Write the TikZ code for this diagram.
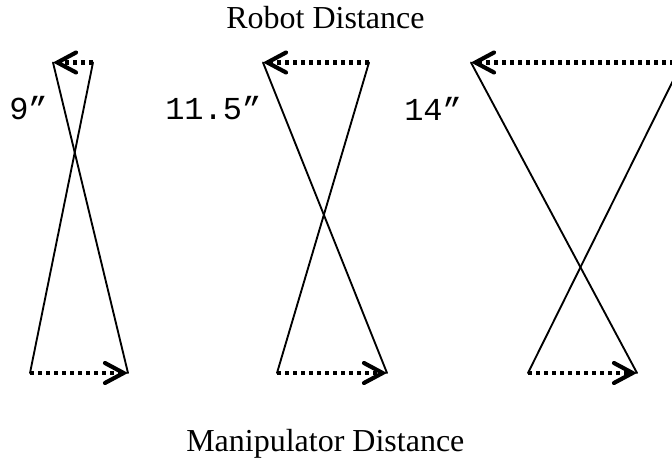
\documentclass[tikz,border=0pt]{standalone}
\usepackage{fontspec}
\setmainfont{Liberation Serif}
\newfontfamily\labelmono{Liberation Mono}
\usetikzlibrary{arrows.meta}
\tikzset{
  crossline/.style={line width=1.4pt, line cap=round},
  dotarrow/.style={line width=3.1pt, dash pattern=on 3pt off 3pt,
    -{Straight Barb[length=14pt, width=15pt, line width=3.1pt, line cap=round]}},
  titletext/.style={inner sep=0pt, anchor=base west, font=\fontsize{24}{28}\selectfont},
  disttext/.style={inner sep=0pt, anchor=base west, font=\labelmono\fontsize{24}{28}\selectfont},
}
\begin{document}
\begin{tikzpicture}[x=0.75pt, y=-0.75pt]
\useasboundingbox (0,0) rectangle (672,459);
\clip (0,0) rectangle (672,459);
% shape 1
\coordinate (atl) at (53,62.5);
\coordinate (atr) at (93,62.5);
\coordinate (abl) at (30,373);
\coordinate (abr) at (128,373);
% shape 2
\coordinate (btl) at (263,62.5);
\coordinate (btr) at (369,62.5);
\coordinate (bbl) at (277,373);
\coordinate (bbr) at (387,373);
% shape 3
\coordinate (ctl) at (471,62.5);
\coordinate (ctr) at (682,62.5);
\coordinate (cbl) at (528,373);
\coordinate (cbr) at (637,373);

\foreach \s in {a,b,c}{
  \draw[crossline] (\s tl) -- (\s br);
  \draw[crossline] (\s tr) -- (\s bl);
  \draw[dotarrow] (\s tr) -- (\s tl);
  \draw[dotarrow] (\s bl) -- (\s br);
}

\node[titletext] (top) at (226,29) {Robot Distance};
\node[titletext] (bottom) at (186,452) {Manipulator Distance};
\node[disttext] (d1) at (9,120) {9”};
\node[disttext] (d2) at (165,120) {11.5”};
\node[disttext] (d3) at (404,121) {14”};
\end{tikzpicture}
\end{document}
